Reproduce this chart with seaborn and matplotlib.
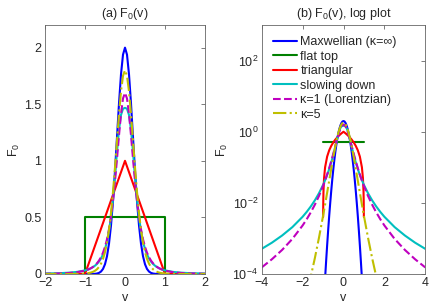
import numpy as np
import matplotlib
matplotlib.use("Agg")
import matplotlib.pyplot as plt
import seaborn as sns

# values, right half only (all curves are symmetric in v)
v_half = [0.0, 0.05, 0.1, 0.15, 0.2, 0.25, 0.3, 0.35, 0.4, 0.45, 0.5, 0.55, 0.6,
          0.65, 0.7, 0.75, 0.8, 0.85, 0.9, 0.95, 1.0, 1.2, 1.4, 1.6, 1.8, 2.0,
          2.5, 3.0, 3.5, 4.0]
maxwellian = [2.0, 1.938, 1.764, 1.507, 1.209, 0.912, 0.645, 0.429, 0.268, 0.157,
              0.0864, 0.0446, 0.0217, 0.00988, 0.00424, 1.7e-3, 6.4e-4, 2.28e-4,
              7.6e-5, 2.4e-5, 7e-6, 2.8e-8, 4e-11, 2e-14, 4e-18, 2e-22, 1e-34,
              1e-49, 1e-67, 1e-87]
slowing = [1.468, 1.460, 1.405, 1.275, 1.079, 0.862, 0.663, 0.501, 0.378, 0.288,
           0.221, 0.173, 0.137, 0.1098, 0.0893, 0.0734, 0.0610, 0.0512, 0.0434,
           0.0371, 0.0319, 0.01863, 0.01179, 0.00792, 0.00557, 0.00406, 0.00208,
           0.00121, 7.6e-4, 5.09e-4]
lorentz = [1.6, 1.551, 1.415, 1.226, 1.019, 0.821, 0.649, 0.508, 0.395, 0.307,
           0.240, 0.188, 0.149, 0.1185, 0.0952, 0.0769, 0.0627, 0.0515, 0.0426,
           0.0355, 0.0298, 0.0156, 0.0089, 0.00541, 0.00346, 0.00231, 9.7e-4,
           4.76e-4, 2.6e-4, 1.53e-4]
kappa5 = [1.8, 1.751, 1.614, 1.413, 1.179, 0.942, 0.725, 0.539, 0.391, 0.277,
          0.194, 0.1334, 0.0911, 0.0620, 0.0420, 0.0285, 0.01935, 0.01318, 0.0090,
          0.00619, 0.00428, 1.04e-3, 2.81e-4, 8.5e-5, 2.8e-5, 1.02e-5, 1.1e-6,
          1.7e-7, 3.3e-8, 8e-9]

v_tri_half = [0.0, 0.1, 0.2, 0.3, 0.4, 0.5, 0.6, 0.7, 0.8, 0.9, 0.95, 0.98, 0.99,
              0.996, 1.0, 4.0]
triangular = [1.0, 0.9, 0.8, 0.7, 0.6, 0.5, 0.4, 0.3, 0.2, 0.1, 0.05, 0.02, 0.01,
              0.004, 0.0, 0.0]

v_flat = [-4.0, -1.0, -1.0, 1.0, 1.0, 4.0]
flat_top = [0.0, 0.0, 0.5, 0.5, 0.0, 0.0]

labels = ["Maxwellian (\u03ba=\u221e)", "flat top", "triangular", "slowing down",
          "\u03ba=1 (Lorentzian)", "\u03ba=5"]
colors = ["#0000ff", "#008000", "#ff0000", "#00bfbf", "#bf00bf", "#bfbf00"]
styles = ["-", "-", "-", "-", "--", "-."]


def mirror(v, f):
    v = np.asarray(v)
    f = np.asarray(f)
    return np.r_[-v[:0:-1], v], np.r_[f[:0:-1], f]


sns.set_style("white")
plt.rcParams["font.family"] = ["Liberation Sans", "DejaVu Sans"]
plt.rcParams["mathtext.fontset"] = "custom"
plt.rcParams["mathtext.rm"] = "Liberation Sans"
plt.rcParams["font.size"] = 9

curves = [mirror(v_half, maxwellian), (np.array(v_flat), np.array(flat_top)),
          mirror(v_tri_half, triangular), mirror(v_half, slowing),
          mirror(v_half, lorentz), mirror(v_half, kappa5)]

fig = plt.figure(figsize=(4.36, 3.07), dpi=100)
ax1 = fig.add_axes([45 / 436, 1 - 274 / 307, 160 / 436, 249 / 307])
ax2 = fig.add_axes([261.7 / 436, 1 - 274 / 307, 163.6 / 436, 249 / 307])
# mask zeros on the log axis so flat top / triangular just stop
ax2.set_yscale("log", nonpositive="mask")

for ax in (ax1, ax2):
    for (x, y), lab, c, ls in zip(curves, labels, colors, styles):
        sns.lineplot(x=x, y=y, ax=ax, color=c, linestyle=ls, lw=1.5, label=lab,
                     estimator=None, sort=False)

ax1.set_xlim(-2, 2)
ax1.set_ylim(0, 2.2)
ax1.set_xticks([-2, -1, 0, 1, 2])
ax1.set_yticks([0, 0.5, 1, 1.5, 2])
ax1.set_yticklabels(["0", "0.5", "1", "1.5", "2"])
ax1.set_title(r"(a) F$_\mathdefault{0}$(v)", fontsize=9, pad=6)
ax1.get_legend().remove()

ax2.set_xlim(-4, 4)
ax2.set_ylim(1e-4, 1e3)
ax2.set_xticks([-4, -2, 0, 2, 4])
ax2.set_yticks([1e-4, 1e-2, 1, 1e2])
ax2.minorticks_off()
ax2.set_title(r"(b) F$_\mathdefault{0}$(v), log plot", fontsize=9, pad=6)
ax2.legend(loc="upper left", frameon=False, fontsize=9, handlelength=1.9,
           handletextpad=0.3, labelspacing=0.2, borderaxespad=0.6,
           borderpad=0.3)

for ax in (ax1, ax2):
    ax.set_xlabel("v", labelpad=1.5)
    ax.set_ylabel(r"F$_\mathdefault{0}$", labelpad=2)
    ax.tick_params(direction="in", top=True, right=True, length=3, width=0.6,
                   color="#666666", labelsize=9, pad=2.5)
    for s in ax.spines.values():
        s.set_color("#666666")
        s.set_linewidth(0.6)

fig.savefig("out.png", dpi=100)
